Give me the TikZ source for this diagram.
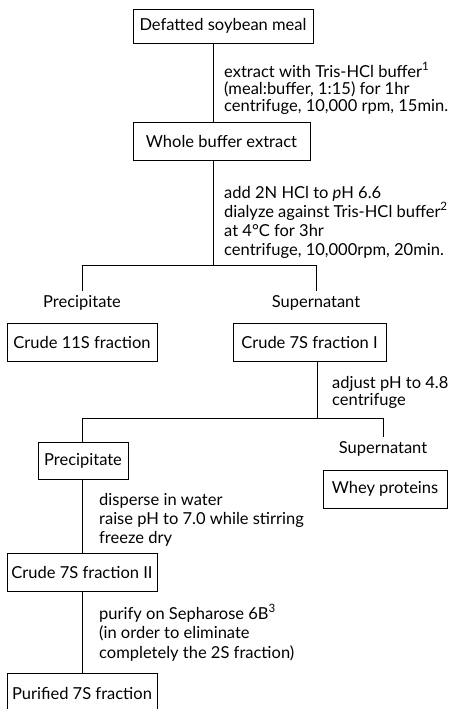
\documentclass[tikz,border=0pt]{standalone}
\usepackage{fontspec}
\setmainfont{Lato}
\begin{document}
\begin{tikzpicture}[x=1pt,y=-1pt,
  txt/.style={font=\fontsize{16.5}{17}\selectfont},
  box/.style={txt, draw, line width=0.8pt, inner sep=0pt, minimum height=38pt},
  lbl/.style={txt, inner sep=0pt, outer sep=5pt},
  note/.style={txt, anchor=base west, align=left, inner sep=0pt},
  ln/.style={line width=0.7pt}]
\useasboundingbox (0,0) rectangle (454,709);
\clip (0,0) rectangle (454,709);
% boxes
\node[box, minimum width=180pt, minimum height=34pt] (b1) at (223,26) {Defatted soybean meal};
\node[box, minimum width=177pt] (b2) at (221.5,141) {Whole buffer extract};
\node[box, minimum width=150pt] (b11) at (82,342) {Crude 11S fraction};
\node[box, minimum width=153pt] (b7a) at (309.5,342) {Crude 7S fraction I};
\node[box, minimum width=90pt, minimum height=37pt] (bp) at (83,460.5) {Precipitate};
\node[box, minimum width=124pt] (bw) at (385,489) {Whey proteins};
\node[box, minimum width=150pt] (b7b) at (82,572) {Crude 7S fraction II};
\node[box, minimum width=150pt, minimum height=40pt] (b7p) at (82,693) {Purified 7S fraction};
% labels
\node[lbl] (lp1) at (82,303) {Precipitate};
\node[lbl] (ls1) at (316,303) {Supernatant};
\node[lbl] (ls2) at (383,449) {Supernatant};
% junctions
\coordinate (j1) at (213,265);
\coordinate (h1l) at (82,265);
\coordinate (h1r) at (316,265);
\coordinate (j2) at (317,418);
\coordinate (h2l) at (82,418);
\coordinate (h2r) at (383,418);
% connectors
\draw[ln] (b1.south -| j1) -- (b2.north -| j1);
\draw[ln] (b2.south -| j1) -- (j1);
\draw[ln] (h1l |- lp1.north) -- (h1l) -- (h1r) -- (h1r |- ls1.north);
\draw[ln] (b7a.south -| j2) -- (j2);
\draw[ln] (bp.north -| h2l) -- (h2l) -- (h2r) -- (h2r |- ls2.north);
\draw[ln] (bp.south -| h2l) -- (b7b.north -| h2l);
\draw[ln] (b7b.south -| h2l) -- (b7p.north -| h2l);
% notes (anchor = baseline of last line)
\node[note] (n1) at (224,111) {extract with Tris-HCl buffer\textsuperscript{1}\\(meal:buffer, 1:15) for 1hr\\centrifuge, 10,000 rpm, 15min.};
\node[note, font=\fontsize{16.5}{19}\selectfont] (n2) at (224,255) {add 2N HCl to \textit{p}H 6.6\\dialyze against Tris-HCl buffer\textsuperscript{2}\\at 4°C for 3hr\\centrifuge, 10,000rpm, 20min.};
\node[note] (n3) at (332,405) {adjust pH to 4.8\\centrifuge};
\node[note, font=\fontsize{16.5}{19}\selectfont] (n4) at (99,543) {disperse in water\\raise pH to 7.0 while stirring\\freeze dry};
\node[note, font=\fontsize{16.5}{19.5}\selectfont] (n5) at (99,658) {purify on Sepharose 6B\textsuperscript{3}\\(in order to eliminate\\completely the 2S fraction)};
\end{tikzpicture}
\end{document}
